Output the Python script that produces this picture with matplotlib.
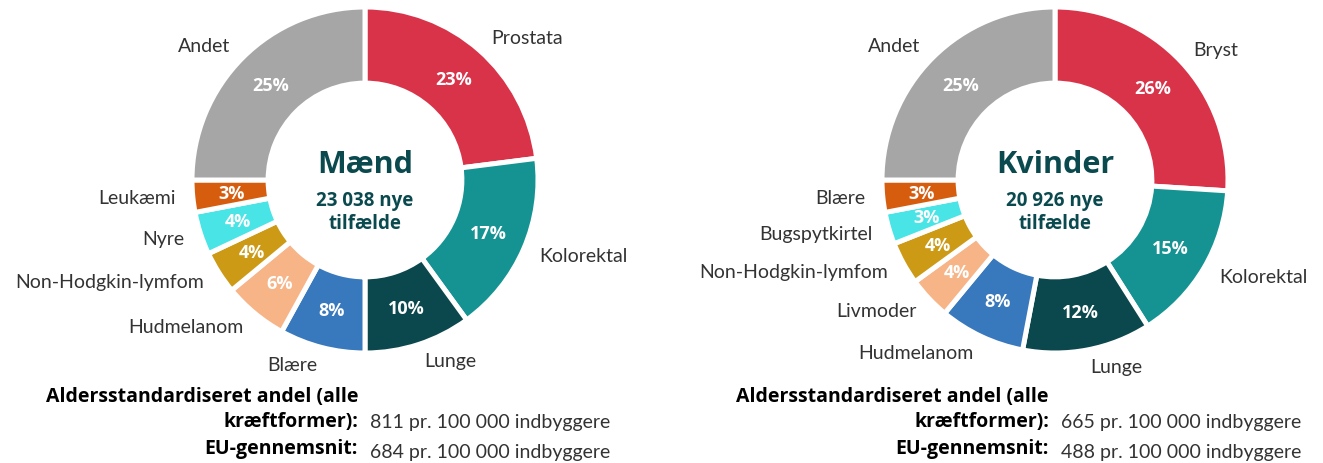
import matplotlib
matplotlib.use("Agg")
import matplotlib.pyplot as plt

plt.rcParams['font.family'] = ['Lato', 'DejaVu Sans']
BOLD = ['Open Sans', 'DejaVu Sans']

# Data
men_labels = ["Prostata", "Kolorektal", "Lunge", "Blære", "Hudmelanom",
              "Non-Hodgkin-lymfom", "Nyre", "Leukæmi", "Andet"]
men_values = [23, 17, 10, 8, 6, 4, 4, 3, 25]
women_labels = ["Bryst", "Kolorektal", "Lunge", "Hudmelanom", "Livmoder",
                "Non-Hodgkin-lymfom", "Bugspytkirtel", "Blære", "Andet"]
women_values = [26, 15, 12, 8, 4, 4, 3, 3, 25]
titles = ["Mænd", "Kvinder"]
subtitles = ["23 038 nye\ntilfælde", "20 926 nye\ntilfælde"]
rate_labels = ["Aldersstandardiseret andel (alle\nkræftformer):", "EU-gennemsnit:"]
men_rates = ["811 pr. 100 000 indbyggere", "684 pr. 100 000 indbyggere"]
women_rates = ["665 pr. 100 000 indbyggere", "488 pr. 100 000 indbyggere"]

colors = ["#d9334a", "#159393", "#0b484d", "#3878bd", "#f7b487",
          "#cc9a14", "#48e4e6", "#d65d0e", "#a6a6a6"]
dark = "#0a4a4f"
label_color = "#333333"

W, H = 1323, 464
fig = plt.figure(figsize=(W / 100, H / 100), dpi=100)

R_px = 173
half = 1.5 * R_px


def donut(cx, cy, labels, values, title, subtitle):
    ax = fig.add_axes([(cx - half) / W, (H - cy - half) / H, 2 * half / W, 2 * half / H])
    wedges, texts, autotexts = ax.pie(
        values, labels=labels, colors=colors, startangle=90, counterclock=False,
        radius=1.0, labeldistance=1.1, pctdistance=0.775,
        autopct=lambda p: f"{p:.0f}%",
        wedgeprops=dict(width=0.44, edgecolor="white", linewidth=3.6),
        textprops=dict(fontsize=14, color=label_color))
    for t in autotexts:
        t.set_color("white")
        t.set_fontweight("bold")
        t.set_fontsize(13)
        t.set_family(BOLD)
    ax.text(0, 0.09, title, ha="center", va="center", fontsize=22,
            fontweight="bold", color=dark, family=BOLD)
    ax.text(0, -0.18, subtitle, ha="center", va="center", fontsize=13.5,
            fontweight="bold", color=dark, linespacing=1.2, family=BOLD)
    ax.set_xlim(-1.5, 1.5)
    ax.set_ylim(-1.5, 1.5)
    ax.axis("off")
    return ax


donut(365, 181, men_labels, men_values, titles[0], subtitles[0])
donut(1055, 181, women_labels, women_values, titles[1], subtitles[1])


def rates(xr, vals):
    line1, line2 = rate_labels[0].split("\n")
    for txt, y in ((line1, 397), (line2, 422), (rate_labels[1], 449)):
        fig.text(xr / W, 1 - y / H, txt, ha="right", va="center",
                 fontsize=14, fontweight="bold", color="black", family=BOLD)
    fig.text((xr + 12) / W, 1 - 423 / H, vals[0], ha="left", va="center",
             fontsize=14, color=label_color)
    fig.text((xr + 12) / W, 1 - 453 / H, vals[1], ha="left", va="center",
             fontsize=14, color=label_color)


rates(358, men_rates)
rates(1049, women_rates)

fig.savefig("out.png", dpi=100)
